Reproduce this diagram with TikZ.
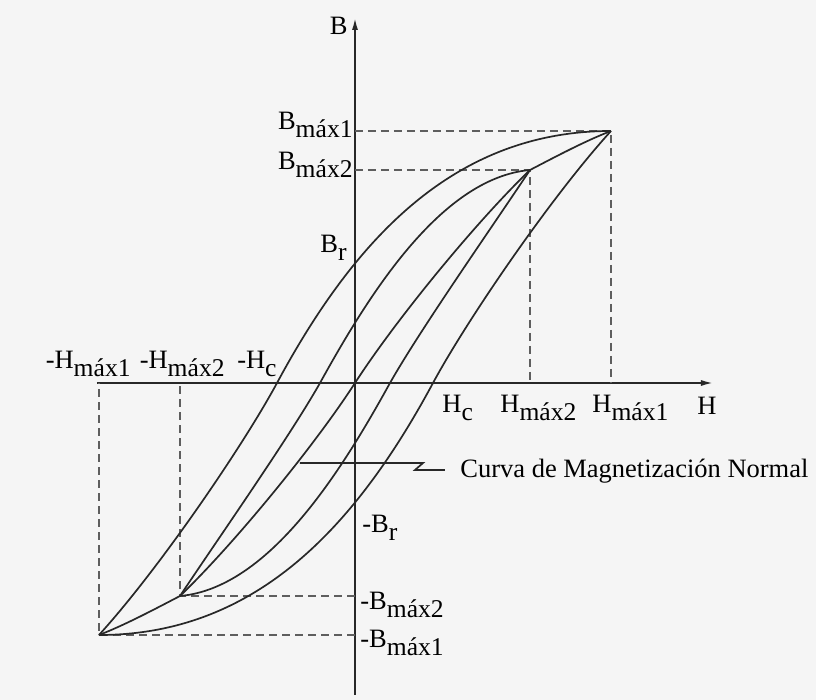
\documentclass[tikz,border=0pt]{standalone}
\usepackage{fontspec}
\setmainfont{Liberation Serif}
\usetikzlibrary{arrows.meta,positioning,calc}
\definecolor{paper}{RGB}{245,245,245}
\definecolor{ink}{RGB}{40,40,40}
\newcommand{\lowsub}[1]{\raisebox{-3.8pt}{\fontsize{12.8}{13}\selectfont #1}}

\tikzset{
  curve/.style={ink,line width=0.85pt},
  axisline/.style={ink,line width=0.85pt},
  axisarrow/.style={-{Latex[length=6pt,width=3pt]}},
  guide/.style={ink!75,line width=0.85pt,dash pattern=on 4pt off 2.5pt},
  lbl/.style={inner sep=0pt,font=\fontsize{13.25}{15}\selectfont},
}

\begin{document}
\begin{tikzpicture}[x=0.5pt,y=0.5pt]
  \fill[paper] (-355,-317) rectangle (461,383);
  \useasboundingbox (-355,-317) rectangle (461,383);

  \coordinate (O) at (0,0);
  \coordinate (HL) at (-258,0);
  \coordinate (HR) at (358,0);
  \coordinate (BB) at (0,-312);
  \coordinate (BT) at (0,365);
  \coordinate (T1) at (256,252);
  \coordinate (T2) at (175,213);
  \coordinate (T1N) at (-256,-252);
  \coordinate (T2N) at (-175,-213);

  \draw[axisline,axisarrow] (HL) -- (HR);
  \draw[axisline,axisarrow] (BB) -- (BT);

  \draw[guide] (O |- T1) -- (T1) -- (T1 |- O);
  \draw[guide] (O |- T2) -- (T2) -- (T2 |- O);
  \draw[guide] (O |- T1N) -- (T1N) -- (T1N |- O);
  \draw[guide] (O |- T2N) -- (T2N) -- (T2N |- O);

  \foreach \r in {0,180}{
    \draw[curve,rotate=\r] (-256,-252) .. controls (-196,-186) and (-112,-63) .. (-78,0)
      .. controls (0,145) and (100,252) .. (256,252);
    \draw[curve,rotate=\r] (-175,-213) .. controls (-135,-153) and (-65,-53) .. (-35,0)
      .. controls (12,85) and (85,205) .. (175,213);
    \draw[curve,rotate=\r] (0,0) .. controls (40,62) and (120,160) .. (175,213)
      .. controls (200,226) and (230,242) .. (256,252);
  }

  \node[lbl,anchor=base east] (B-lab) at (-7,348) {B};
  \node[lbl,anchor=base east] (Bm1-lab) at (-2,253) {B\lowsub{máx1}};
  \node[lbl,anchor=base east] (Bm2-lab) at (-2,213) {B\lowsub{máx2}};
  \node[lbl,anchor=base east] (Br-lab) at (-8,130) {B\lowsub{r}};
  \node[lbl,anchor=base east] (Hm1n-lab) at (-224,14) {-H\lowsub{máx1}};
  \node[lbl,anchor=base east] (Hm2n-lab) at (-130,14) {-H\lowsub{máx2}};
  \node[lbl,anchor=base east] (Hcn-lab) at (-78,14) {-H\lowsub{c}};
  \node[lbl,anchor=base west] (Hc-lab) at (87,-30) {H\lowsub{c}};
  \node[lbl,anchor=base west] (Hm2-lab) at (145,-30) {H\lowsub{máx2}};
  \node[lbl,anchor=base west] (Hm1-lab) at (237,-30) {H\lowsub{máx1}};
  \node[lbl,anchor=base west] (H-lab) at (342,-32) {H};
  \node[lbl,anchor=base west] (Brn-lab) at (7,-150) {-B\lowsub{r}};
  \node[lbl,anchor=base west] (Bm2n-lab) at (5,-227) {-B\lowsub{máx2}};
  \node[lbl,anchor=base west] (Bm1n-lab) at (5,-265) {-B\lowsub{máx1}};

  \coordinate (NC) at (-55,-80);
  \node[lbl,anchor=base west] (normal-text) at (105,-95) {Curva de Magnetización Normal};
  \draw[axisline] (NC) -- ++(123,0) -- ++(-8,-7) -- ($(normal-text.base west)+(-15,8)$);

\end{tikzpicture}
\end{document}
